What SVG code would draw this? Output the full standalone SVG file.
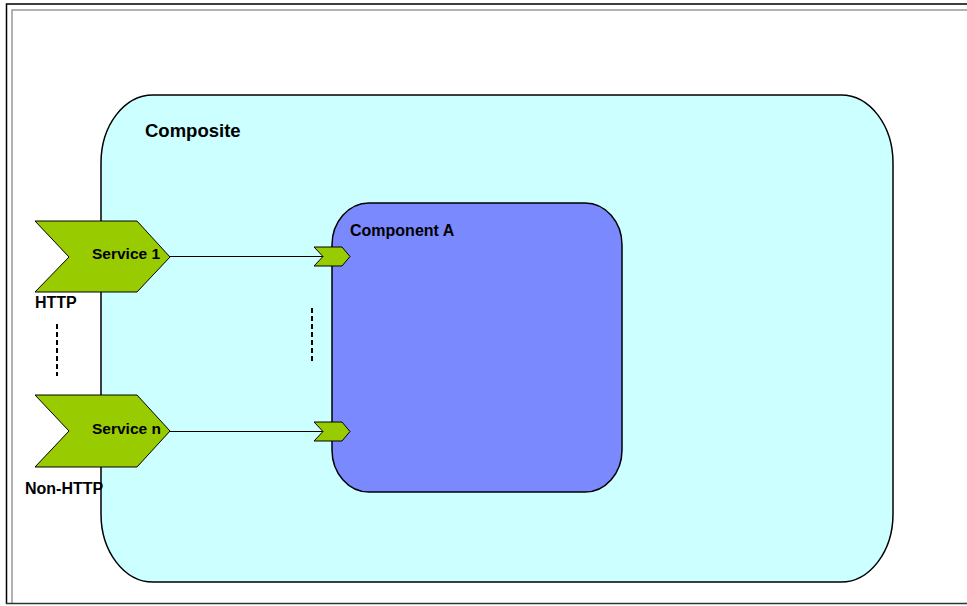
<svg xmlns="http://www.w3.org/2000/svg" width="967" height="606" viewBox="0 0 967 606">
<style>
.lbl{font-family:"Liberation Sans",Arial,sans-serif;font-weight:bold;font-size:16px;fill:#000}
.svc{fill:#99CC00;stroke:#000;stroke-width:1}
.conn{stroke:#000;stroke-width:1.2;fill:none}
.dash{stroke:#000;stroke-width:2;stroke-dasharray:5 3;fill:none}
</style>
<rect width="967" height="606" fill="#fff"/>
<g id="frame" fill="none">
<path d="M6.5,604 V4 H967" stroke="#000" stroke-width="1.5"/>
<path d="M12,604 V10 H967" stroke="#999" stroke-width="1.5"/>
<path d="M6,603.5 H967" stroke="#333" stroke-width="1.5"/>
</g>
<g id="composite">
<rect x="101" y="95" width="792" height="487" rx="52" ry="68" fill="#CCFFFF" stroke="#000" stroke-width="1.5"/>
<text class="lbl" x="145" y="137" style="font-size:18.5px">Composite</text>
</g>
<g id="componentA">
<rect x="332" y="203" width="290" height="289" rx="37" ry="42" fill="#7B89FF" stroke="#000" stroke-width="1.5"/>
<text class="lbl" x="350" y="236">Component A</text>
</g>
<g id="connectors">
<line class="conn" x1="170" y1="256.5" x2="323" y2="256.5"/>
<line class="conn" x1="170" y1="431.5" x2="323" y2="431.5"/>
<line class="dash" x1="57" y1="324" x2="57" y2="376"/>
<line class="dash" x1="312" y1="308" x2="312" y2="362"/>
</g>
<g id="service1">
<polygon class="svc" points="35,221 137,221 170,257 137,292 35,292 69,257"/>
<text class="lbl" x="92" y="259" style="font-size:15.5px">Service 1</text>
<text class="lbl" x="35" y="308">HTTP</text>
</g>
<g id="serviceN">
<polygon class="svc" points="35,395 137,395 170,431 137,467 35,467 69,431"/>
<text class="lbl" x="92" y="434" style="font-size:15.5px">Service n</text>
<text class="lbl" x="25" y="494">Non-HTTP</text>
</g>
<g id="ref1">
<polygon class="svc" points="314,247 342,247 350,256.5 342,266 314,266 323,256.5"/>
</g>
<g id="refN">
<polygon class="svc" points="314,422 342,422 350,431.5 342,441 314,441 323,431.5"/>
</g>
</svg>
